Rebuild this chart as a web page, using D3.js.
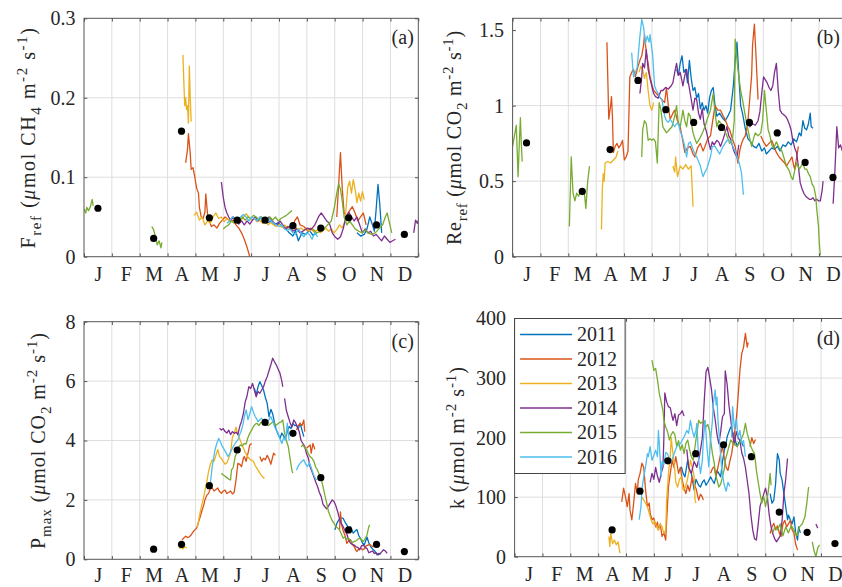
<!DOCTYPE html>
<html>
<head>
<meta charset="utf-8">
<script src="https://cdn.jsdelivr.net/npm/d3@7"></script>
<style>
  body { margin: 0; background: #fff; }
  svg, svg text { font-family: "Liberation Serif", "DejaVu Serif", "Times New Roman", Times, serif; }
  text { fill: #262626; }
</style>
</head>
<body>
<svg id="chart" width="842" height="587" font-family="Liberation Serif, DejaVu Serif, serif"></svg>
<script>
// ---- data (x = day of year, y = value; null breaks a line) ----
const months = ['J', 'F', 'M', 'A', 'M', 'J', 'J', 'A', 'S', 'O', 'N', 'D'];
const years = ['2011', '2012', '2013', '2014', '2015', '2016'];
const colors = ['#0072BD', '#D95319', '#EDB120', '#7E2F8E', '#77AC30', '#4DBEEE'];

// (a) Fref
const frefTicks = [0, 0.1, 0.2, 0.3];
const frefMed = [0.061, null, 0.023, 0.158, 0.049, 0.046, 0.046, 0.039, 0.036, 0.049, 0.040, 0.028];
const fref11 = [[196,0.046],[200,0.042],[204,0.045],[208,0.040],[212,0.043],[216,0.038],[220,0.036],[224,0.030],[228,0.026],[231,0.033],[234,0.020],[238,0.030],[242,0.028],[246,0.033],[250,0.027],[254,0.030],[255,null],
  [298,0.030],[302,0.026],[306,0.028],[309,0.035],[312,0.050],[315,0.040],[317,0.032],[319,0.060],[321,0.091],[323,0.065],[325,0.030]];
const fref12 = [[111,0.118],[113,0.135],[114,0.155],[116,0.130],[117,0.110],[119,0.112],[121,0.100],[123,0.086],[125,0.080],[126,0.062],[128,0.050],[130,0.048],[132,0.056],[133,0.079],[135,0.052],[137,0.045],[139,0.038],[142,0.040],[145,0.036],[148,0.042],[151,0.046],[154,0.050],[157,0.047],[160,0.044],[163,0.046],[166,0.040],[169,0.036],[172,0.030],[175,0.022],[178,0.012],[181,0.0],[182,null],
  [218,0.035],[222,0.038],[226,0.034],[230,0.045],[233,0.050],[236,0.040],[240,0.038],[244,0.033],[248,0.036],[252,0.030],[253,null],
  [276,0.050],[278,0.090],[280,0.131],[282,0.085],[284,0.055],[287,0.050],[290,0.058],[293,0.063],[296,0.055],[299,0.045],[302,0.050],[305,0.055],[308,0.040]];
const fref13 = [[108,0.254],[109,0.220],[110,0.190],[111,0.200],[112,0.185],[113,0.190],[114,0.168],[115,0.240],[116,0.200],[117,0.170],[118,null],
  [120,0.052],[123,0.056],[126,0.046],[129,0.050],[132,0.040],[135,0.045],[138,0.042],[141,0.050],[144,0.055],[147,0.048],[150,0.050],[153,0.044],[156,0.048],[159,0.045],[162,0.050],[165,0.046],[168,0.048],[171,0.044],[174,0.050],[177,0.054],[180,0.050],[183,0.046],[186,0.048],[189,0.044],[192,0.046],[195,0.042],[198,0.045],[201,0.040],[204,0.043],[207,0.040],[210,0.038],[213,0.041],[216,0.037],[219,0.040],[222,0.036],[225,0.038],[228,0.035],[231,0.037],[234,0.034],[237,0.036],[240,0.033],[243,0.036],[246,0.032],[249,0.035],[252,0.031],[255,0.034],[258,0.030],[261,0.033],[264,0.036],[267,0.032],[270,0.035],[273,0.030],[276,0.034],[279,0.040],[282,0.036],[285,0.045],[288,0.088],[290,0.095],[292,0.080],[294,0.097],[296,0.085],[298,0.068],[300,0.080],[302,0.070],[304,0.082],[306,0.072]];
const fref14 = [[150,0.094],[152,0.075],[154,0.062],[156,0.055],[158,0.050],[160,0.046],[163,0.050],[166,0.045],[169,0.041],[172,0.045],[175,0.040],[178,0.045],[181,0.041],[184,0.046],[187,0.050],[190,0.045],[193,0.050],[196,0.048],[199,0.045],[202,0.050],[205,0.046],[208,0.042],[211,0.040],[214,0.045],[217,0.040],[220,0.035],[224,0.038],[228,0.032],[232,0.035],[236,0.030],[240,0.033],[244,0.036],[248,0.034],[252,0.040],[256,0.050],[259,0.055],[262,0.050],[265,0.045],[268,0.042],[271,0.030],[274,0.025],[277,0.022],[280,0.025],[283,0.035],[286,0.050],[289,0.056],[292,0.050],[295,0.045],[298,0.050],[301,0.040],[304,0.030],[307,0.035],[310,0.030],[313,0.032],[316,0.026],[319,0.028],[322,0.024],[325,0.020],[328,0.026],[331,0.022],[334,0.018],[337,0.020],[340,0.022],[341,null],
  [360,0.030],[362,0.046],[364,0.042],[366,0.048]];
const fref15 = [[0,0.060],[2,0.055],[3,0.062],[5,0.058],[7,0.063],[8,0.068],[9,0.072],[10,0.064],[11,null],
  [74,0.038],[76,0.034],[78,0.025],[80,0.015],[82,0.020],[84,0.011],[85,0.018],[86,null],
  [152,0.035],[155,0.038],[158,0.040],[161,0.045],[164,0.042],[167,0.048],[170,0.045],[173,0.050],[176,0.046],[179,0.050],[182,0.048],[185,0.052],[188,0.050],[191,0.046],[194,0.050],[197,0.048],[200,0.045],[203,0.050],[206,0.046],[209,0.050],[212,0.045],[215,0.048],[218,0.050],[221,0.052],[224,0.055],[227,0.058],[228,null],
  [250,0.035],[254,0.030],[258,0.032],[262,0.035],[266,0.040],[270,0.045],[273,0.060],[276,0.080],[278,0.092],[280,0.085],[282,0.070],[284,0.050],[287,0.040],[290,0.045],[293,0.040],[296,0.035],[300,0.032],[304,0.030],[307,0.034],[310,0.030],[314,0.028],[318,0.030],[322,0.035],[326,0.040],[329,0.050],[331,0.055],[333,0.045],[336,0.030]];
const fref16 = [[156,0.042],[159,0.045],[162,0.050],[165,0.048],[168,0.045],[171,0.050],[174,0.053],[177,0.050],[180,0.045],[183,0.050],[186,0.048],[189,0.045],[192,0.050],[195,0.046],[198,0.044],[201,0.048],[204,0.045],[207,0.042],[210,0.040],[213,0.038],[216,0.040],[219,0.035],[222,0.033],[225,0.035],[228,0.030],[231,0.028],[234,0.035],[237,0.030],[240,0.025],[243,0.030],[246,0.028],[249,0.022],[252,0.030],[255,0.025]];

// (b) Reref
const reTicks = [0, 0.5, 1, 1.5];
const reMed = [0.753, null, 0.432, 0.709, 1.167, 0.973, 0.889, 0.856, 0.889, 0.819, 0.624, 0.525];
const re11 = [[179,1.24],[181,1.20],[183,1.28],[185,1.33],[187,1.22],[189,1.24],[191,1.15],[193,1.30],[195,1.18],[197,1.10],[199,1.12],[201,1.05],[203,1.08],[205,0.98],[207,1.02],[209,0.97],[211,1.00],[213,0.95],[215,1.05],[217,1.10],[219,1.12],[221,1.00],[223,0.93],[226,0.95],[229,0.92],[232,0.90],[235,0.93],[238,0.97],[241,1.13],[243,1.30],[245,1.42],[247,1.20],[249,1.00],[251,0.95],[254,0.85],[257,0.78],[260,0.76],[263,0.73],[266,0.72],[269,0.75],[272,0.70],[275,0.72],[277,0.68],[280,0.70],[283,0.72],[286,0.71],[289,0.73],[292,0.70],[295,0.74],[298,0.73],[301,0.76],[304,0.74],[307,0.78],[310,0.76],[313,0.82],[315,0.80],[317,0.90],[319,0.85],[321,0.84],[323,0.88],[325,0.95],[326,0.86],[328,0.85]];
const re12 = [[103,1.42],[105,0.91],[107,1.00],[108,1.06],[109,0.93],[110,0.69],[112,0.73],[114,0.75],[116,0.72],[118,0.74],[120,0.77],[122,0.64],[124,0.66],[126,0.70],[128,1.19],[130,1.22],[132,1.24],[134,1.19],[137,1.26],[139,1.30],[141,1.33],[143,1.40],[144,1.47],[146,1.35],[148,1.28],[150,1.19],[152,1.14],[154,1.10],[157,1.08],[160,1.06],[163,1.04],[166,1.02],[168,1.12],[170,1.00],[172,0.91],[175,0.95],[177,0.97],[180,0.90],[183,0.86],[186,0.76],[188,0.69],[191,0.72],[194,0.73],[197,0.68],[199,0.66],[202,0.72],[205,0.75],[208,0.70],[210,0.73],[213,0.78],[216,0.80],[219,0.92],[221,1.00],[224,0.97],[227,0.97],[230,0.93],[232,0.91],[235,0.86],[237,0.84],[240,0.78],[243,0.73],[246,0.62],[248,0.70],[250,0.75],[252,0.78],[254,0.80],[256,0.86],[257,0.90],[259,1.05],[261,1.20],[262,1.40],[264,1.54],[266,1.30],[268,1.04],[269,null],
  [271,0.80],[274,0.76],[277,0.73],[280,0.75],[283,0.77],[286,0.72],[288,0.69],[291,0.66],[294,0.64],[297,0.62],[299,0.60],[302,0.63],[305,0.66],[307,0.60],[308,0.58],[310,0.65],[312,0.73]];
const re13 = [[97,0.18],[98,0.45],[99,0.55],[100,0.50],[101,0.62],[104,0.63],[107,0.62],[110,0.64],[113,0.66],[115,0.70],[116,null],
  [138,1.22],[140,1.26],[142,1.24],[144,1.18],[146,1.22],[148,1.10],[150,1.00],[152,0.97],[154,1.02],[155,null],
  [175,0.60],[177,0.56],[178,0.66],[180,0.53],[183,0.60],[186,0.58],[189,0.61],[192,0.58],[195,0.60],[197,0.33]];
const re14 = [[139,1.08],[141,1.19],[142,1.28],[144,1.25],[146,1.37],[148,1.24],[150,1.18],[152,1.13],[154,1.08],[156,1.06],[159,1.05],[162,1.10],[164,1.10],[167,1.12],[170,1.11],[173,1.13],[175,1.15],[177,1.22],[179,1.28],[181,1.20],[183,1.22],[186,1.13],[188,1.20],[190,1.24],[192,1.15],[194,1.08],[197,0.97],[199,1.05],[201,1.04],[203,0.95],[205,0.91],[207,0.98],[209,0.88],[212,0.82],[214,0.76],[216,0.71],[218,0.76],[220,0.74],[223,0.77],[225,0.76],[227,0.73],[230,0.78],[232,0.82],[234,0.86],[236,0.80],[238,0.78],[241,0.71],[243,0.68],[245,0.66],[247,0.74],[248,null],
  [256,0.88],[259,0.86],[262,0.88],[265,0.87],[268,0.90],[270,0.96],[272,1.08],[274,1.19],[276,1.17],[278,1.15],[280,1.12],[282,1.10],[284,1.13],[286,1.22],[288,1.28],[290,1.10],[292,0.97],[294,0.95],[296,0.94],[298,0.93],[300,0.91],[302,0.88],[304,0.84],[306,0.77],[308,0.72],[310,0.69],[312,0.60],[314,0.49],[316,0.45],[318,0.42],[320,0.40],[322,0.39],[324,0.38],[326,0.38],[328,0.39],[330,0.37],[332,0.38],[334,0.37],[336,0.37],[338,0.44],[339,0.50],[340,null],
  [350,0.35],[352,0.58],[354,0.86],[356,0.72],[358,0.74],[360,0.70]];
const re15 = [[0,0.73],[2,0.80],[4,0.87],[5,0.70],[6,0.53],[7,0.70],[8.5,0.92],[9.5,0.75],[10.5,0.63],[11,null],
  [62,0.20],[64,0.66],[66,0.42],[68,0.37],[70,0.42],[72,0.40],[74,0.43],[76,0.41],[78,0.44],[80,0.32],[82,0.50],[84,0.60],[85,null],
  [141,0.66],[142,0.84],[144,0.90],[146,0.88],[148,0.77],[150,0.78],[152,0.77],[154,0.78],[156,0.76],[158,0.62],[160,1.02],[162,0.97],[164,0.86],[166,0.84],[168,0.82],[171,0.84],[174,0.86],[177,0.93],[179,1.00],[181,0.88],[183,0.86],[186,0.97],[188,0.90],[190,0.86],[192,0.95],[194,0.93],[197,0.82],[199,0.78],[201,0.75],[203,0.77],[205,0.79],[208,0.83],[210,0.86],[213,0.92],[216,0.97],[219,1.08],[221,0.95],[223,0.86],[225,0.90],[228,0.88],[231,0.84],[234,0.80],[237,0.75],[240,0.77],[242,0.90],[243,1.44],[245,1.30],[247,1.19],[249,1.10],[251,1.04],[253,0.97],[255,0.90],[257,0.84],[259,0.78],[261,0.73],[263,0.78],[265,0.82],[268,0.80],[271,0.82],[273,0.90],[275,1.10],[277,0.97],[279,0.84],[281,0.80],[283,0.74],[285,0.72],[288,0.76],[291,0.72],[294,0.70],[297,0.64],[299,0.60],[302,0.57],[304,0.53],[306,0.51],[308,0.57],[310,0.62],[313,0.58],[315,0.60],[317,0.62],[319,0.58],[321,0.58],[323,0.55],[325,0.53],[327,0.48],[329,0.46],[331,0.40],[332,0.32],[334,0.20],[335,0.08],[336,0.01]];
const re16 = [[130,1.35],[132,1.19],[134,1.22],[136,1.25],[139,1.46],[141,1.57],[143,1.52],[145,1.41],[147,1.46],[149,1.42],[150,1.47],[152,1.38],[153,1.33],[155,1.13],[157,1.10],[159,1.08],[161,1.05],[163,1.04],[166,0.93],[168,0.90],[170,0.89],[172,0.91],[175,0.88],[177,0.86],[179,0.88],[181,0.88],[183,0.83],[185,0.80],[188,0.73],[190,0.66],[192,0.75],[194,0.76],[197,0.71],[199,0.68],[201,0.66],[203,0.63],[205,0.60],[207,0.55],[208,0.53],[210,0.56],[212,0.58],[214,0.62],[216,0.66],[218,0.73],[221,0.73],[224,0.70],[226,0.68],[229,0.72],[232,0.75],[234,0.77],[237,0.77],[239,0.76],[241,0.72],[243,0.70],[245,0.66],[247,0.63],[249,0.58],[250,0.55],[252,0.41]];

// (c) Pmax
const pmTicks = [0, 2, 4, 6, 8];
const pmMed = [null, null, 0.34, 0.50, 2.48, 3.68, 4.61, 4.24, 2.75, 0.99, 0.50, 0.26];
const pm11 = [[186,5.76],[188,5.53],[190,5.81],[192,5.98],[194,5.85],[196,5.70],[198,5.45],[200,5.25],[202,4.80],[204,5.05],[206,4.90],[208,4.60],[210,4.35],[212,4.20],[214,4.07],[216,4.25],[218,4.15],[220,4.07],[222,4.30],[224,4.47],[226,4.40],[228,4.58],[230,4.50],[232,4.52],[234,4.40],[236,4.58],[238,4.35],[240,4.13],[241,null],
  [274,0.99],[276,1.20],[278,1.32],[280,1.40],[283,1.38],[285,1.25],[287,1.15],[289,1.05],[291,1.10],[294,0.88],[296,0.95],[298,1.00],[300,0.80],[302,0.70],[304,0.55],[306,0.48],[309,0.75],[311,0.55],[313,0.43],[315,0.35],[317,0.30],[320,0.15],[322,0.20],[324,0.18]];
const pm12 = [[107,0.65],[109,0.72],[111,0.78],[113,0.73],[115,0.76],[117,0.82],[119,0.92],[121,0.99],[123,1.05],[125,1.25],[127,1.44],[129,1.66],[131,1.85],[132,2.00],[134,2.15],[136,2.22],[138,2.38],[140,2.40],[142,2.30],[144,2.35],[146,2.40],[148,2.28],[150,2.22],[152,2.30],[154,2.33],[156,2.22],[158,2.25],[160,2.30],[162,2.20],[164,2.26],[166,2.67],[168,3.23],[170,3.20],[172,3.12],[174,3.40],[175,3.46],[177,3.30],[179,3.57],[181,3.85],[183,3.90],[184,null],
  [192,3.46],[194,3.30],[196,3.40],[198,3.35],[200,3.50],[202,3.38],[204,3.20],[206,3.45],[207,3.57],[209,3.50],[210,null],
  [232,4.35],[234,4.50],[236,4.58],[238,4.50],[240,4.69],[241,4.30],[242,null],
  [243,3.74],[245,3.80],[247,3.85],[248,3.57],[250,3.90],[252,3.70],[253,null],
  [279,1.00],[280,1.60],[281,1.20],[283,0.95],[285,0.80],[287,0.54],[289,0.62],[291,0.66],[293,0.50],[295,0.43],[297,0.30],[298,0.26],[300,0.35],[302,0.38],[304,0.32],[306,0.35],[308,0.45],[310,0.48],[312,0.50],[314,0.45],[316,0.42]];
const pm13 = [[104,0.37],[106,0.40],[108,0.35],[110,0.42],[112,0.38],[113,null],
  [124,1.10],[126,1.45],[128,1.75],[130,2.00],[132,2.30],[134,2.60],[136,2.95],[138,3.20],[140,3.35],[142,3.30],[144,3.50],[146,3.70],[148,3.45],[150,3.40],[152,3.30],[154,3.20],[156,3.25],[158,3.40],[160,3.60],[162,4.10],[164,4.25],[166,4.45],[168,4.20],[170,4.05],[172,3.90],[174,3.75],[176,3.60],[178,3.50],[180,3.40],[182,3.35],[185,3.30],[187,3.15],[189,3.05],[191,2.95],[193,2.85],[195,2.78],[197,2.72]];
const pm14 = [[148,4.41],[150,4.35],[152,4.40],[154,4.30],[156,4.25],[158,4.35],[160,4.20],[162,4.30],[164,4.24],[166,4.28],[168,4.20],[170,4.47],[172,4.65],[174,4.90],[176,5.30],[178,5.50],[180,5.81],[182,5.75],[184,5.92],[186,5.70],[188,5.47],[190,5.65],[192,5.59],[194,5.70],[196,5.81],[198,6.00],[200,6.15],[202,6.35],[204,6.55],[206,6.77],[208,6.65],[210,6.54],[212,6.40],[214,6.26],[216,6.00],[217,5.81],[218,null],
  [219,5.42],[221,5.00],[223,4.80],[225,4.60],[227,4.45],[229,4.69],[231,4.60],[233,4.45],[235,4.30],[237,4.00],[239,3.90],[241,3.80],[243,3.55],[245,3.40],[247,3.10],[249,2.95],[251,2.78],[253,2.60],[255,2.45],[257,2.25],[259,2.11],[261,1.85],[263,1.77],[265,1.70],[267,1.80],[269,1.90],[271,2.00],[273,1.95],[275,1.80],[277,1.60],[279,1.35],[281,1.20],[283,1.10],[285,0.95],[287,0.85],[289,0.65],[291,0.54],[293,0.50],[295,0.48],[297,0.42],[299,0.40],[301,0.32],[303,0.45],[305,0.48],[307,0.40],[309,0.36],[311,0.22],[313,0.25],[315,0.28],[317,0.20],[319,0.22],[321,0.15],[323,0.18],[325,0.25],[327,0.32],[329,0.28],[331,0.20]];
const pm15 = [[150,2.90],[152,2.84],[154,2.80],[156,2.75],[158,2.70],[160,2.67],[161,3.00],[163,3.10],[165,3.45],[167,3.60],[169,3.79],[171,3.85],[173,3.82],[175,3.90],[177,3.88],[179,4.10],[181,4.24],[183,4.35],[185,4.47],[187,4.55],[189,4.58],[191,4.50],[193,4.60],[195,4.63],[197,4.55],[199,4.58],[201,4.50],[203,4.55],[205,4.60],[207,4.63],[209,4.50],[211,4.55],[213,4.60],[215,4.62],[217,4.69],[219,4.24],[221,4.00],[223,3.80],[225,3.40],[227,3.00],[228,2.90],[229,null],
  [237,3.79],[239,3.85],[241,3.75],[243,3.70],[245,3.55],[247,3.45],[249,3.40],[251,3.30],[253,3.10],[255,3.00],[257,2.85],[259,2.70],[261,2.45],[263,2.15],[265,1.89],[267,1.60],[269,1.44],[271,1.30],[273,1.21],[275,1.10],[277,1.05],[279,0.99],[281,0.85],[283,0.71],[285,0.75],[287,0.68],[289,0.70],[291,0.65],[293,0.56],[295,0.60],[297,0.62],[299,0.68],[301,0.71],[303,0.65],[305,0.60],[307,0.70],[309,0.82],[311,1.10],[312,1.16]];
const pm16 = [[138,2.56],[140,3.12],[142,3.50],[143,3.68],[145,3.90],[147,4.07],[149,3.95],[151,3.80],[153,3.70],[155,3.60],[157,3.46],[159,3.55],[161,3.68],[163,3.80],[165,3.90],[168,4.02],[170,4.20],[172,4.35],[174,4.60],[175,4.80],[177,5.03],[179,4.70],[181,4.90],[183,5.14],[185,4.95],[187,4.80],[189,4.70],[190,4.63],[192,4.70],[194,4.75],[196,4.62],[198,4.55],[200,4.65],[202,4.70],[204,4.80],[206,4.65],[208,4.47],[210,4.35],[212,4.24],[214,4.05],[216,3.90],[218,4.10],[220,4.00],[222,4.58],[224,4.00],[225,null],
  [232,3.00],[234,3.15],[236,3.23],[238,3.30],[240,3.35],[242,3.20],[244,3.12],[246,3.25],[248,3.10],[250,2.90],[252,2.75],[254,2.67]];

// (d) k
const kTicks = [0, 100, 200, 300, 400];
const kMed = [null, null, null, 45, 110, 161, 173, 188, 168, 75, 41, 22];
const k11 = [[182,151],[184,140],[186,134],[189,162],[191,145],[193,140],[196,112],[198,130],[201,120],[203,117],[205,125],[207,129],[209,120],[211,125],[214,134],[216,128],[218,123],[220,135],[221,145],[223,140],[225,134],[227,160],[229,179],[231,190],[232,201],[234,210],[236,218],[238,210],[240,201],[242,190],[243,185],[245,192],[247,196],[249,188],[250,185],[251,null],
  [279,106],[281,90],[283,95],[285,123],[286,150],[287,173],[289,162],[290,140],[292,129],[294,106],[296,84],[298,62],[299,70],[301,62],[303,55],[305,67],[307,39],[309,28],[310,50],[312,40]];
const k12 = [[117,92],[119,115],[121,101],[123,84],[125,106],[126,78],[128,62],[130,90],[132,123],[134,106],[135,129],[137,140],[139,157],[141,150],[143,112],[145,84],[147,90],[148,73],[150,62],[152,65],[154,50],[156,58],[157,45],[159,55],[161,34],[163,40],[165,28],[166,60],[168,117],[170,140],[172,162],[174,150],[176,168],[179,140],[181,150],[183,129],[185,115],[187,106],[189,120],[191,110],[194,134],[196,120],[198,115],[201,95],[203,105],[205,100],[206,95],[207,null],
  [214,140],[216,148],[218,151],[220,135],[222,150],[225,173],[227,185],[229,165],[231,150],[233,145],[235,160],[237,173],[239,195],[240,207],[242,229],[244,268],[246,313],[248,341],[250,352],[252,375],[254,352],[255,360],[256,null],
  [257,185],[259,200],[261,190],[263,197],[264,null],
  [279,39],[281,50],[283,56],[285,45],[287,52],[289,40],[291,34],[293,55],[295,61],[297,50],[299,55],[301,61],[303,45],[305,40],[307,20],[309,11]];
const k13 = [[103,34],[104,17],[105,39],[107,22],[109,28],[111,20],[113,25],[115,6],[116,null],
  [139,100],[141,95],[143,90],[145,84],[147,73],[149,62],[151,55],[153,60],[155,50],[157,45],[159,55],[161,50],[163,39],[165,45],[166,95],[168,140],[170,170],[171,200],[172,185],[174,160],[176,125],[178,117],[180,130],[182,134],[184,112],[186,115],[188,125],[190,140],[192,162],[194,150],[196,135],[197,95],[198,90]];
const k14 = [[148,125],[150,140],[152,130],[154,150],[156,135],[158,125],[160,140],[162,150],[163,200],[164,275],[166,260],[168,252],[170,250],[172,235],[173,229],[175,240],[177,220],[179,238],[181,240],[183,245],[185,236],[186,null],
  [188,180],[190,150],[193,140],[196,160],[199,150],[202,170],[205,200],[207,260],[209,310],[211,318],[213,300],[215,280],[217,250],[219,230],[221,205],[223,190],[225,210],[227,235],[229,240],[230,312],[232,290],[234,255],[236,230],[238,205],[240,188],[242,210],[244,200],[246,195],[248,175],[250,165],[252,150],[254,128],[256,105],[258,70],[260,45],[262,30],[264,28],[266,55],[268,85],[270,95],[272,105],[274,115],[276,100],[278,70],[280,50],[282,38],[284,30],[286,25],[288,30],[290,35],[292,60],[294,105],[296,130],[298,165],[299,null],
  [329,55],[331,48]];
const k15 = [[150,330],[152,313],[154,316],[156,297],[158,274],[160,260],[162,245],[163,229],[165,218],[167,210],[169,196],[171,205],[173,210],[175,205],[177,185],[179,195],[181,179],[183,188],[185,173],[187,190],[189,196],[191,180],[193,168],[195,162],[197,185],[199,207],[201,229],[203,224],[205,226],[207,229],[209,218],[211,222],[213,210],[214,196],[216,173],[218,157],[219,140],[221,129],[223,117],[225,122],[227,134],[229,148],[230,162],[232,173],[234,185],[236,196],[239,190],[243,185],[247,195],[250,207],[252,224],[254,207],[256,196],[258,185],[260,178],[262,173],[264,145],[266,125],[268,106],[270,90],[272,101],[274,84],[276,100],[277,110],[279,140],[280,120],[281,null],
  [282,40],[284,50],[287,45],[290,55],[293,35],[296,50],[299,40],[302,52],[305,45],[308,35],[311,50],[314,55],[317,67],[319,89],[321,117],[322,null],
  [325,25],[327,10],[329,0],[331,15],[333,20]];
const k16 = [[136,62],[138,84],[139,112],[141,134],[143,151],[145,173],[146,168],[148,185],[150,162],[152,170],[154,179],[156,168],[157,212],[158,190],[160,134],[161,160],[163,155],[165,175],[167,173],[170,157],[173,168],[177,185],[181,190],[185,201],[188,212],[190,207],[192,229],[194,212],[196,201],[198,212],[199,224],[201,162],[203,140],[205,162],[206,196],[208,229],[210,185],[212,151],[214,196],[216,229],[217,257],[219,280],[220,255],[221,268],[222,230],[224,190],[226,150],[228,128],[229,120],[231,110],[233,125],[235,118],[236,null],
  [237,200],[238,252],[240,215],[242,230],[244,200],[246,212],[248,190],[250,195],[252,168]];

// ---- layout ----
const svg = d3.select('#chart');
const FONT = 'Liberation Serif, DejaVu Serif, serif';
const sub = { size: 15, sub: 6, sup: -8 };
const panels = [
  { x0: 84, x1: 418.3, y0: 18.3, y1: 256.7, ymax: 0.3, ticks: frefTicks, fmt: d => d === 0 ? '0' : d3.format('.1f')(d),
    lines: [fref11, fref12, fref13, fref14, fref15, fref16], med: frefMed, tag: '(a)', labX: 35, padM: 10.5, labLen: 222,
    label: [['F'], ['ref', 'sub'], [' ('], ['\u03bc', 'it'], ['mol CH'], ['4', 'sub'], [' m'], ['-2', 'sup'], [' s'], ['-1', 'sup'], [')']] },
  { x0: 512.6, x1: 846.9, y0: 18.3, y1: 256.7, ymax: 1.578, ticks: reTicks, fmt: d => String(d),
    lines: [re11, re12, re13, re14, re15, re16], med: reMed, tag: '(b)', labX: 461, padM: 10.5, labLen: 215,
    label: [['Re'], ['ref', 'sub'], [' ('], ['\u03bc', 'it'], ['mol CO'], ['2', 'sub'], [' m'], ['-2', 'sup'], [' s'], ['-1', 'sup'], [')']] },
  { x0: 84, x1: 418.3, y0: 321.7, y1: 559.3, ymax: 8, ticks: pmTicks, fmt: d => String(d),
    lines: [pm11, pm12, pm13, pm14, pm15, pm16], med: pmMed, tag: '(c)', labX: 45, padM: 8.3, labLen: 217,
    label: [['P'], ['max', 'sub'], [' ('], ['\u03bc', 'it'], ['mol CO'], ['2', 'sub'], [' m'], ['-2', 'sup'], [' s'], ['-1', 'sup'], [')']] },
  { x0: 514.6, x1: 848.9, y0: 318.5, y1: 556.7, ymax: 400, ticks: kTicks, fmt: d => String(d),
    lines: [k11, k12, k13, k14, k15, k16], med: kMed, tag: '(d)', labX: 464, padM: 10, labLen: 143,
    label: [['k ('], ['\u03bc', 'it'], ['mol m'], ['-2', 'sup'], [' s'], ['-1', 'sup'], [')']], legend: true }
];

const monthEdges = d3.range(13).map(m => m * 365 / 12);
const monthMids = d3.range(12).map(m => (m + 0.5) * 365 / 12);

panels.forEach((p, pi) => {
  const x = d3.scaleLinear().domain([0, 365]).range([p.x0, p.x1]);
  const y = d3.scaleLinear().domain([0, p.ymax]).range([p.y1, p.y0]);
  const g = svg.append('g');

  // grid
  g.append('g').selectAll('line').data(monthEdges.slice(1, 12)).join('line')
    .attr('x1', d => x(d)).attr('x2', d => x(d)).attr('y1', p.y0).attr('y2', p.y1)
    .attr('stroke', '#dedede').attr('stroke-width', 1);
  g.append('g').selectAll('line').data(p.ticks.slice(1, -1)).join('line')
    .attr('x1', p.x0).attr('x2', p.x1).attr('y1', d => y(d)).attr('y2', d => y(d))
    .attr('stroke', '#dedede').attr('stroke-width', 1);

  // lines
  const clipId = 'clip' + pi;
  svg.append('clipPath').attr('id', clipId).append('rect')
    .attr('x', p.x0).attr('y', p.y0 - 2).attr('width', p.x1 - p.x0).attr('height', p.y1 - p.y0 + 2);
  const line = d3.line().defined(d => d[1] !== null).x(d => x(d[0])).y(d => y(d[1]));
  g.append('g').attr('clip-path', `url(#${clipId})`)
    .selectAll('path').data(p.lines).join('path')
    .attr('d', line).attr('fill', 'none')
    .attr('stroke', (d, i) => colors[i]).attr('stroke-width', 1.3)
    .attr('stroke-linejoin', 'round');

  // monthly medians
  g.append('g').selectAll('circle')
    .data(p.med.map((v, i) => [monthMids[i], v]).filter(d => d[1] !== null))
    .join('circle')
    .attr('cx', d => x(d[0])).attr('cy', d => y(d[1])).attr('r', 3.6).attr('fill', '#000');

  // axes
  const axisStyle = a => a.call(s => s.select('.domain').remove())
    .attr('font-family', FONT).attr('font-size', 20)
    .call(s => s.selectAll('line').attr('stroke', '#555'))
    .call(s => s.selectAll('text').attr('fill', '#262626'));
  g.append('g').attr('transform', `translate(${p.x0},0)`)
    .call(d3.axisLeft(y).tickValues(p.ticks).tickFormat(p.fmt).tickSize(-3.3).tickPadding(8.5))
    .call(axisStyle);
  g.append('g').attr('transform', `translate(${p.x1},0)`)
    .call(d3.axisRight(y).tickValues(p.ticks).tickFormat('').tickSize(-3.3))
    .call(axisStyle);
  g.append('g').attr('transform', `translate(0,${p.y1})`)
    .call(d3.axisBottom(x).tickValues(monthEdges).tickFormat('').tickSize(-3.3))
    .call(axisStyle);
  g.append('g').attr('transform', `translate(0,${p.y0})`)
    .call(d3.axisTop(x).tickValues(monthEdges).tickFormat('').tickSize(-3.3))
    .call(axisStyle);
  g.append('g').attr('transform', `translate(0,${p.y1})`)
    .call(d3.axisBottom(x).tickValues(monthMids).tickFormat((d, i) => months[i]).tickSize(0).tickPadding(p.padM))
    .call(axisStyle);

  // box
  g.append('rect').attr('x', p.x0).attr('y', p.y0)
    .attr('width', p.x1 - p.x0).attr('height', p.y1 - p.y0)
    .attr('fill', 'none').attr('stroke', '#555').attr('stroke-width', 1);

  // panel tag (kept inside the page for the right-hand panels)
  g.append('text').attr('x', Math.min(p.x1 - 4.5, 840)).attr('y', p.y0 + 26)
    .attr('font-family', FONT).attr('text-anchor', 'end').attr('font-size', 20).text(p.tag);

  // y label with sub/superscripts, spread to the reference length
  const lab = g.append('text')
    .attr('transform', `translate(${p.labX},${(p.y0 + p.y1) / 2}) rotate(-90)`)
    .attr('font-family', FONT).attr('text-anchor', 'middle').attr('font-size', 20);
  let shift = 0;
  p.label.forEach(([t, kind]) => {
    const target = kind === 'sub' ? sub.sub : kind === 'sup' ? sub.sup : 0;
    const ts = lab.append('tspan').attr('dy', target - shift).text(t);
    if (kind === 'sub' || kind === 'sup') ts.attr('font-size', sub.size);
    if (kind === 'it') ts.attr('font-style', 'italic');
    shift = target;
  });
  const natural = lab.node().getComputedTextLength();
  const nChars = p.label.map(d => d[0]).join('').length;
  if (natural < p.labLen) lab.attr('letter-spacing', (p.labLen - natural) / nChars);

  // legend
  if (p.legend) {
    const lg = g.append('g');
    lg.append('rect').attr('x', p.x0).attr('y', p.y0).attr('width', 110.5).attr('height', 155)
      .attr('fill', '#fff').attr('stroke', '#444').attr('stroke-width', 1);
    const row = lg.selectAll('g.row').data(years).join('g').attr('class', 'row')
      .attr('transform', (d, i) => `translate(${p.x0},${p.y0 + 16 + i * 24.5})`);
    row.append('line').attr('x1', 5.5).attr('x2', 57.5)
      .attr('stroke', (d, i) => colors[i]).attr('stroke-width', 1.3);
    row.append('text').attr('x', 62.5).attr('dy', '0.33em')
      .attr('font-family', FONT).attr('font-size', 20).text(d => d);
  }
});
</script>
</body>
</html>
